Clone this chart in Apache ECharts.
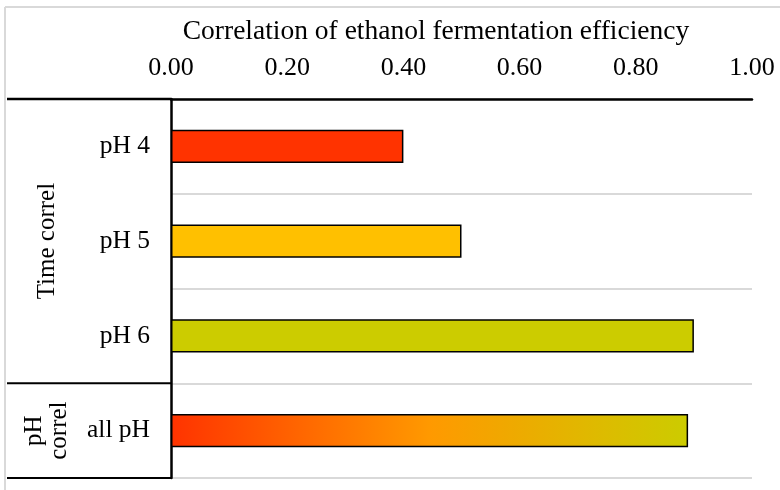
<!DOCTYPE html>
<html>
<head>
<meta charset="utf-8">
<script src="https://cdn.jsdelivr.net/npm/echarts@6/dist/echarts.min.js"></script>
<style>html,body{margin:0;padding:0;background:#fff}#c{width:780px;height:490px}</style>
</head>
<body>
<div id="c"></div>
<script>
const categories = ['pH 4', 'pH 5', 'pH 6', 'all pH'];
const values = [0.40, 0.50, 0.90, 0.89];
const barColors = ['#FF3300', '#FFC000', '#CCCC00', null];
const gradientStops = ['#FF3300', '#FF9900', '#CCCC00'];
const groups = ['Time correl', 'pH\ncorrel'];
const groupSizes = [3, 1];
const titleText = 'Correlation of ethanol fermentation efficiency';
const xMin = 0, xMax = 1, xStep = 0.2;

const FONT = '"Liberation Serif", "Times New Roman", serif';
const chart = echarts.init(document.getElementById('c'), null, {renderer: 'canvas'});

const data = values.map((v, i) => {
  let color = barColors[i];
  if (!color) {
    color = {type: 'linear', x: 0, y: 0, x2: 1, y2: 0,
      colorStops: gradientStops.map((c, k) => ({offset: k / (gradientStops.length - 1), color: c}))};
  }
  return {value: v, itemStyle: {color: color}};
});

chart.setOption({
  animation: false,
  backgroundColor: '#fff',
  title: {
    text: titleText, left: 431, top: 13, textAlign: 'center',
    textStyle: {fontFamily: FONT, fontSize: 27.5, fontWeight: 'normal', color: '#000'}
  },
  grid: {left: 171, right: 28, top: 99, bottom: 12, containLabel: false},
  xAxis: {
    type: 'value', position: 'top', min: xMin, max: xMax, interval: xStep,
    axisLine: {show: true, lineStyle: {color: '#000', width: 2.5}},
    axisTick: {show: false},
    splitLine: {show: false},
    axisLabel: {fontFamily: FONT, fontSize: 26, color: '#000', margin: 18,
      formatter: v => v.toFixed(2)}
  },
  yAxis: {
    type: 'category', data: categories, inverse: true,
    axisLine: {show: true, lineStyle: {color: '#000', width: 2.5}},
    axisTick: {show: false},
    splitLine: {show: true, lineStyle: {color: '#d9d9d9', width: 2}},
    axisLabel: {fontFamily: FONT, fontSize: 25.5, color: '#000', margin: 21}
  },
  series: [{
    type: 'bar', data: data, barWidth: '35%',
    itemStyle: {borderColor: '#000', borderWidth: 1.5}
  }]
});

function layoutGraphics() {
  const y0 = chart.convertToPixel({yAxisIndex: 0}, 0);
  const y1 = chart.convertToPixel({yAxisIndex: 0}, 1);
  const band = y1 - y0;
  const top = y0 - band / 2;
  const axisX = chart.convertToPixel({xAxisIndex: 0}, xMin);
  const leftX = 7;
  const els = [];
  els.push({type: 'line', shape: {x1: 5, y1: 7, x2: 800, y2: 7}, style: {stroke: '#d9d9d9', lineWidth: 2}, z: 0});
  els.push({type: 'line', shape: {x1: 5, y1: 7, x2: 5, y2: 500}, style: {stroke: '#d9d9d9', lineWidth: 2}, z: 0});
  els.push({type: 'line', shape: {x1: leftX, y1: top, x2: axisX, y2: top}, style: {stroke: '#000', lineWidth: 2.5}, z: 10});
  let start = 0;
  groups.forEach((g, gi) => {
    const n = groupSizes[gi];
    const gTop = top + start * band;
    const gBot = top + (start + n) * band;
    els.push({type: 'line', shape: {x1: leftX, y1: gBot, x2: axisX, y2: gBot}, style: {stroke: '#000', lineWidth: 2}, z: 10});
    els.push({type: 'text', x: 47, y: (gTop + gBot) / 2, rotation: Math.PI / 2,
      style: {text: g, fontFamily: FONT, fontSize: 25, fill: '#000', align: 'center', verticalAlign: 'middle', lineHeight: 25}, z: 10});
    start += n;
  });
  chart.setOption({graphic: {elements: els}});
}
layoutGraphics();
</script>
</body>
</html>
